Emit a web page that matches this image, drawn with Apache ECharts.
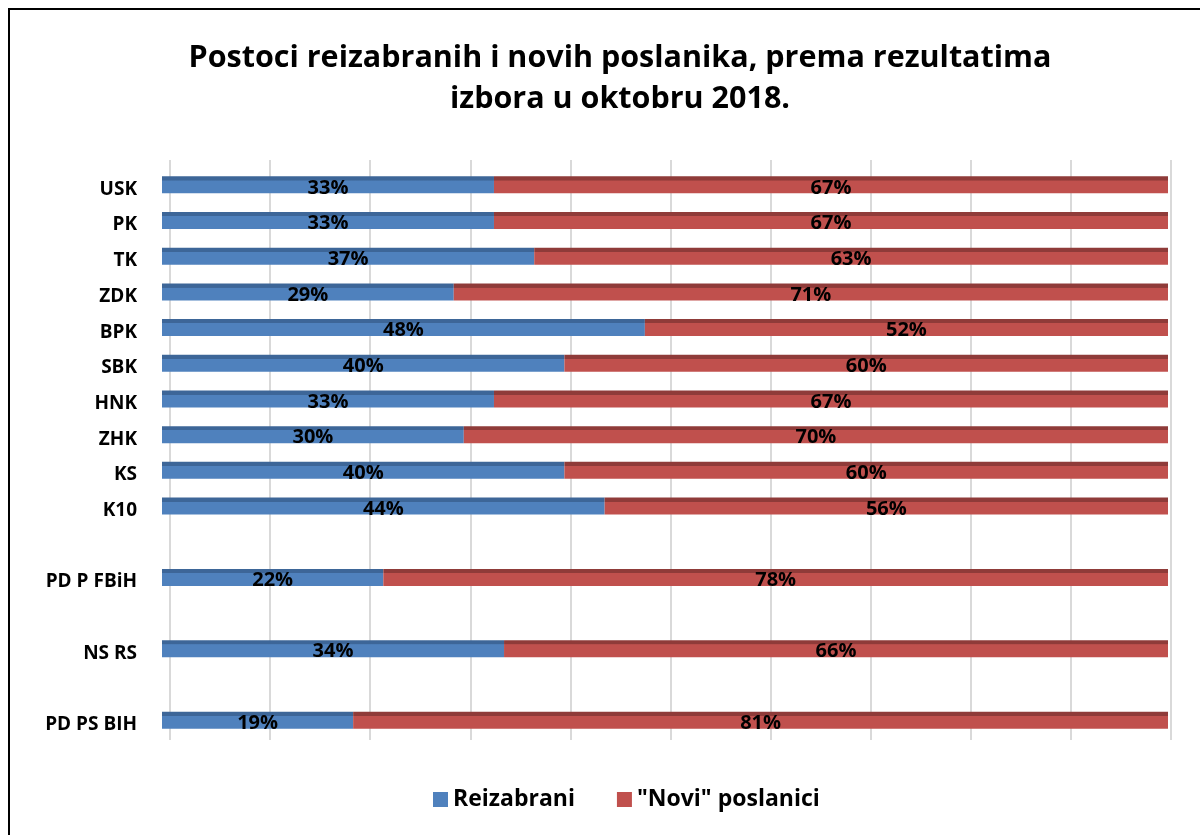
<!DOCTYPE html>
<html>
<head>
<meta charset="utf-8">
<script src="https://cdn.jsdelivr.net/npm/echarts@6/dist/echarts.min.js"></script>
<style>
  html, body { margin: 0; padding: 0; background: #fff; }
  #chart { width: 1200px; height: 835px; }
</style>
</head>
<body>
<div id="chart"></div>
<script>
// gaps between the groups are empty categories (distinct names of spaces)
const categories = ['USK', 'PK', 'TK', 'ZDK', 'BPK', 'SBK', 'HNK', 'ZHK', 'KS', 'K10', ' ', 'PD P FBiH', '  ', 'NS RS', '   ', 'PD PS BIH'];
const reizabrani = [33, 33, 37, 29, 48, 40, 33, 30, 40, 44, null, 22, null, 34, null, 19];
const noviPoslanici = [67, 67, 63, 71, 52, 60, 67, 70, 60, 56, null, 78, null, 66, null, 81];

const font = '"Open Sans", Lato, sans-serif';

// fake 3D: darker strip on top of each bar
function face(top, base) {
  return new echarts.graphic.LinearGradient(0, 0, 0, 1, [
    { offset: 0, color: top },
    { offset: 0.24, color: top },
    { offset: 0.25, color: base },
    { offset: 1, color: base }
  ]);
}

const chart = echarts.init(document.getElementById('chart'));

const label = {
  show: true,
  position: 'inside',
  offset: [0, 3],
  formatter: p => p.value + '%',
  color: '#000',
  fontFamily: font,
  fontWeight: 'bold',
  fontSize: 20
};

chart.setOption({
  animation: false,
  backgroundColor: '#fff',
  title: {
    text: 'Postoci reizabranih i novih poslanika, prema rezultatima\nizbora u oktobru 2018.',
    left: 615,
    textAlign: 'center',
    top: 33,
    textStyle: {
      fontFamily: font,
      fontWeight: 'bold',
      fontSize: 30.5,
      lineHeight: 41,
      color: '#000'
    }
  },
  legend: {
    bottom: 19,
    left: 428,
    icon: 'rect',
    itemWidth: 15,
    itemHeight: 15,
    itemGap: 42,
    textStyle: { fontFamily: font, fontWeight: 'bold', fontSize: 23, color: '#000' },
    data: [
      { name: 'Reizabrani', itemStyle: { color: '#4f81bd' } },
      { name: '"Novi" poslanici', itemStyle: { color: '#c0504d' } }
    ]
  },
  graphic: [{
    type: 'rect',
    shape: { x: 9, y: 9, width: 1300, height: 900 },
    style: { fill: 'none', stroke: '#000', lineWidth: 2 },
    silent: true
  }],
  grid: [
    { left: 162, right: 32, top: 167, bottom: 97 },
    { left: 170, right: 29, top: 160, bottom: 95 }
  ],
  xAxis: [
    {
      gridIndex: 0, type: 'value', min: 0, max: 100,
      axisLine: { show: false }, axisTick: { show: false },
      axisLabel: { show: false }, splitLine: { show: false }
    },
    {
      gridIndex: 1, type: 'value', min: 0, max: 100, interval: 10,
      axisLine: { show: false }, axisTick: { show: false },
      axisLabel: { show: false },
      splitLine: { show: true, lineStyle: { color: '#d9d9d9', width: 2 } }
    }
  ],
  yAxis: [
    {
      gridIndex: 0, type: 'category', data: categories, inverse: true,
      axisLine: { show: false }, axisTick: { show: false },
      axisLabel: {
        margin: 25,
        formatter: v => '{c|' + v + '}',
        rich: {
          c: {
            color: '#000', fontFamily: font,
            fontWeight: 'bold', fontSize: 19,
            padding: [9, 0, 0, 0]
          }
        }
      }
    },
    {
      gridIndex: 1, type: 'category', data: categories, inverse: true,
      show: false
    }
  ],
  series: [
    {
      name: 'Reizabrani',
      type: 'bar',
      stack: 'total',
      barWidth: 17,
      data: reizabrani,
      itemStyle: { color: face('#3d6698', '#4f81bd') },
      label: label
    },
    {
      name: '"Novi" poslanici',
      type: 'bar',
      stack: 'total',
      barWidth: 17,
      data: noviPoslanici,
      itemStyle: { color: face('#8f3b39', '#c0504d') },
      label: label
    }
  ]
});
</script>
</body>
</html>
